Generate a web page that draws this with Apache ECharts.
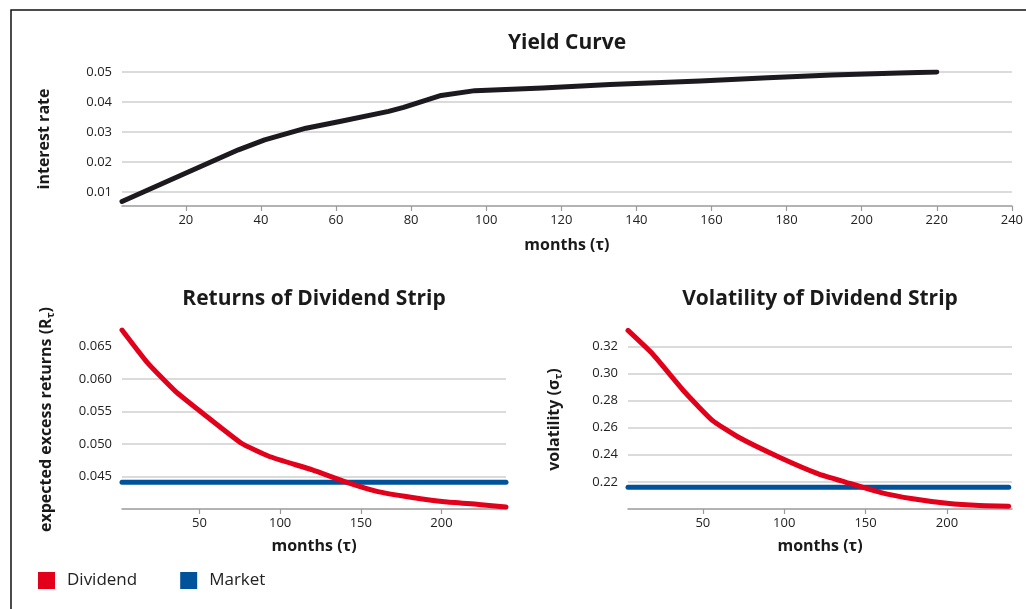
<!DOCTYPE html>
<html>
<head>
<meta charset="utf-8">
<script src="https://cdn.jsdelivr.net/npm/echarts@6/dist/echarts.min.js"></script>
<style>
  html, body { margin: 0; padding: 0; background: #fff; }
  #chart { width: 1026px; height: 609px; }
</style>
</head>
<body>
<div id="chart"></div>
<script>
// yield curve (months, interest rate)
const yieldMonths = [3, 19, 28, 34, 41, 52, 61, 74, 78, 88, 97, 115, 133, 157, 175, 192, 210, 220];
const yieldRates = [0.0069, 0.0158, 0.0208, 0.0241, 0.0274, 0.0313, 0.0335, 0.0369, 0.0382, 0.0422, 0.0438, 0.0447, 0.0458, 0.0470, 0.0481, 0.0490, 0.0497, 0.0500];

// returns of dividend strip
const returnMonths = [2, 18, 35, 52, 76, 93, 120, 140, 160, 181, 202, 223, 240];
const dividendReturns = [0.0675, 0.0624, 0.0581, 0.0547, 0.0501, 0.0481, 0.0460, 0.0442, 0.0427, 0.0418, 0.0411, 0.0407, 0.0403];
const marketReturnMonths = [2, 240];
const marketReturns = [0.0441, 0.0441];

// volatility of dividend strip
const volMonths = [4, 19, 39, 56, 72, 97, 121, 138, 159, 179, 200, 220, 238];
const dividendVols = [0.3317, 0.3145, 0.2861, 0.2652, 0.2529, 0.2382, 0.2259, 0.2197, 0.2123, 0.2075, 0.2042, 0.2025, 0.2020];
const marketVolMonths = [4, 238];
const marketVols = [0.216, 0.216];

const zip = (xs, ys) => xs.map((x, i) => [x, ys[i]]);

const FONT = '"Open Sans", "Noto Sans", sans-serif';
const RED = '#e2001a';
const BLUE = '#00539b';
const GRID_COLOR = '#cfcfcf';
const CLEAR = 'rgba(0,0,0,0)';

const xAxisBase = (splitNumber, hideMax) => ({
  type: 'value',
  min: 'dataMin',
  max: 240,
  splitNumber: splitNumber,
  name: 'months (τ)',
  nameLocation: 'middle',
  nameGap: 29,
  nameTextStyle: { fontFamily: FONT, fontWeight: 'bold', fontSize: 16, color: '#1a1a1a' },
  axisLine: { lineStyle: { color: '#9a9a9a', width: 1.5 } },
  axisTick: { show: true, length: 5, lineStyle: { color: '#9a9a9a', width: 1.2 } },
  axisLabel: {
    showMinLabel: false,
    showMaxLabel: !hideMax,
    margin: 8,
    fontFamily: FONT,
    fontSize: 13,
    color: '#222'
  },
  splitLine: { show: false }
});

const yAxisBase = (min, max, splitNumber, digits, nameGap, gridColors, keepMax) => ({
  type: 'value',
  min: min,
  max: max,
  splitNumber: splitNumber,
  nameLocation: 'middle',
  nameGap: nameGap,
  axisLine: { show: false },
  axisTick: { show: false },
  axisLabel: {
    showMinLabel: false,
    showMaxLabel: keepMax,
    margin: 10,
    fontFamily: FONT,
    fontSize: 13,
    color: '#222',
    formatter: v => v.toFixed(digits)
  },
  splitLine: {
    show: true,
    showMaxLine: keepMax,
    lineStyle: { color: gridColors, width: 1.5 }
  }
});

const subRich = {
  a: { fontFamily: FONT, fontWeight: 'bold', fontSize: 16, color: '#1a1a1a' },
  s: { fontFamily: FONT, fontWeight: 'bold', fontSize: 11, color: '#1a1a1a', verticalAlign: 'bottom', padding: [8, 0, 0, 0] }
};

const chart = echarts.init(document.getElementById('chart'));

const option = {
  animation: false,
  backgroundColor: '#fff',
  textStyle: { fontFamily: FONT },
  graphic: [
    {
      type: 'polyline',
      shape: { points: [[1026, 10], [11, 10], [11, 609]] },
      style: { stroke: '#111', lineWidth: 1.5, fill: null },
      silent: true
    },
    {
      type: 'text', x: 567, y: 43,
      style: { text: 'Yield Curve', textAlign: 'center', textVerticalAlign: 'middle',
        fontFamily: FONT, fontWeight: 'bold', fontSize: 21, fill: '#1a1a1a' }
    },
    {
      type: 'text', x: 314, y: 299,
      style: { text: 'Returns of Dividend Strip', textAlign: 'center', textVerticalAlign: 'middle',
        fontFamily: FONT, fontWeight: 'bold', fontSize: 21, fill: '#1a1a1a' }
    },
    {
      type: 'text', x: 820, y: 299,
      style: { text: 'Volatility of Dividend Strip', textAlign: 'center', textVerticalAlign: 'middle',
        fontFamily: FONT, fontWeight: 'bold', fontSize: 21, fill: '#1a1a1a' }
    }
  ],
  legend: {
    left: 38,
    top: 572,
    padding: 0,
    icon: 'rect',
    itemWidth: 17,
    itemHeight: 17,
    itemGap: 43,
    data: ['Dividend', 'Market'],
    textStyle: { fontFamily: FONT, fontSize: 17, color: '#222', padding: [0, 0, 0, 7] }
  },
  grid: [
    { left: 122, right: 14, top: 72, bottom: 403 },
    { left: 122, right: 520, top: 330, bottom: 100 },
    { left: 628, right: 14, top: 330, bottom: 100 }
  ],
  xAxis: [
    Object.assign(xAxisBase(12, false), { gridIndex: 0, nameGap: 31 }),
    Object.assign(xAxisBase(5, true), { gridIndex: 1 }),
    Object.assign(xAxisBase(5, true), { gridIndex: 2 })
  ],
  yAxis: [
    Object.assign(yAxisBase(0.0054, 0.05, 5, 2, 70, [CLEAR, GRID_COLOR, GRID_COLOR, GRID_COLOR, GRID_COLOR, GRID_COLOR], true), {
      gridIndex: 0,
      name: 'interest rate',
      nameTextStyle: { fontFamily: FONT, fontWeight: 'bold', fontSize: 16, color: '#1a1a1a' }
    }),
    Object.assign(yAxisBase(0.04, 0.0675, 5, 3, 66, [CLEAR, GRID_COLOR, GRID_COLOR, GRID_COLOR, GRID_COLOR, CLEAR, CLEAR], false), {
      gridIndex: 1,
      name: '{a|expected excess returns (R}{s|τ}{a|)}',
      nameTextStyle: { rich: subRich }
    }),
    Object.assign(yAxisBase(0.2, 0.332, 6, 2, 64, [CLEAR, GRID_COLOR, GRID_COLOR, GRID_COLOR, GRID_COLOR, GRID_COLOR, GRID_COLOR, CLEAR], false), {
      gridIndex: 2,
      name: '{a|volatility (σ}{s|τ}{a|)}',
      nameTextStyle: { rich: subRich }
    })
  ],
  series: [
    {
      name: 'Yield',
      type: 'line',
      xAxisIndex: 0, yAxisIndex: 0,
      data: zip(yieldMonths, yieldRates),
      showSymbol: false,
      lineStyle: { color: '#1c1a1f', width: 5, cap: 'round', join: 'round' }
    },
    {
      name: 'Market',
      type: 'line',
      xAxisIndex: 1, yAxisIndex: 1,
      data: zip(marketReturnMonths, marketReturns),
      showSymbol: false,
      itemStyle: { color: BLUE },
      lineStyle: { color: BLUE, width: 5, cap: 'round' }
    },
    {
      name: 'Dividend',
      type: 'line',
      xAxisIndex: 1, yAxisIndex: 1,
      data: zip(returnMonths, dividendReturns),
      showSymbol: false,
      smooth: 0.15,
      itemStyle: { color: RED },
      lineStyle: { color: RED, width: 5, cap: 'round', join: 'round' }
    },
    {
      name: 'Market',
      type: 'line',
      xAxisIndex: 2, yAxisIndex: 2,
      data: zip(marketVolMonths, marketVols),
      showSymbol: false,
      itemStyle: { color: BLUE },
      lineStyle: { color: BLUE, width: 5, cap: 'round' }
    },
    {
      name: 'Dividend',
      type: 'line',
      xAxisIndex: 2, yAxisIndex: 2,
      data: zip(volMonths, dividendVols),
      showSymbol: false,
      smooth: 0.15,
      itemStyle: { color: RED },
      lineStyle: { color: RED, width: 5, cap: 'round', join: 'round' }
    }
  ]
};

chart.setOption(option);
</script>
</body>
</html>
